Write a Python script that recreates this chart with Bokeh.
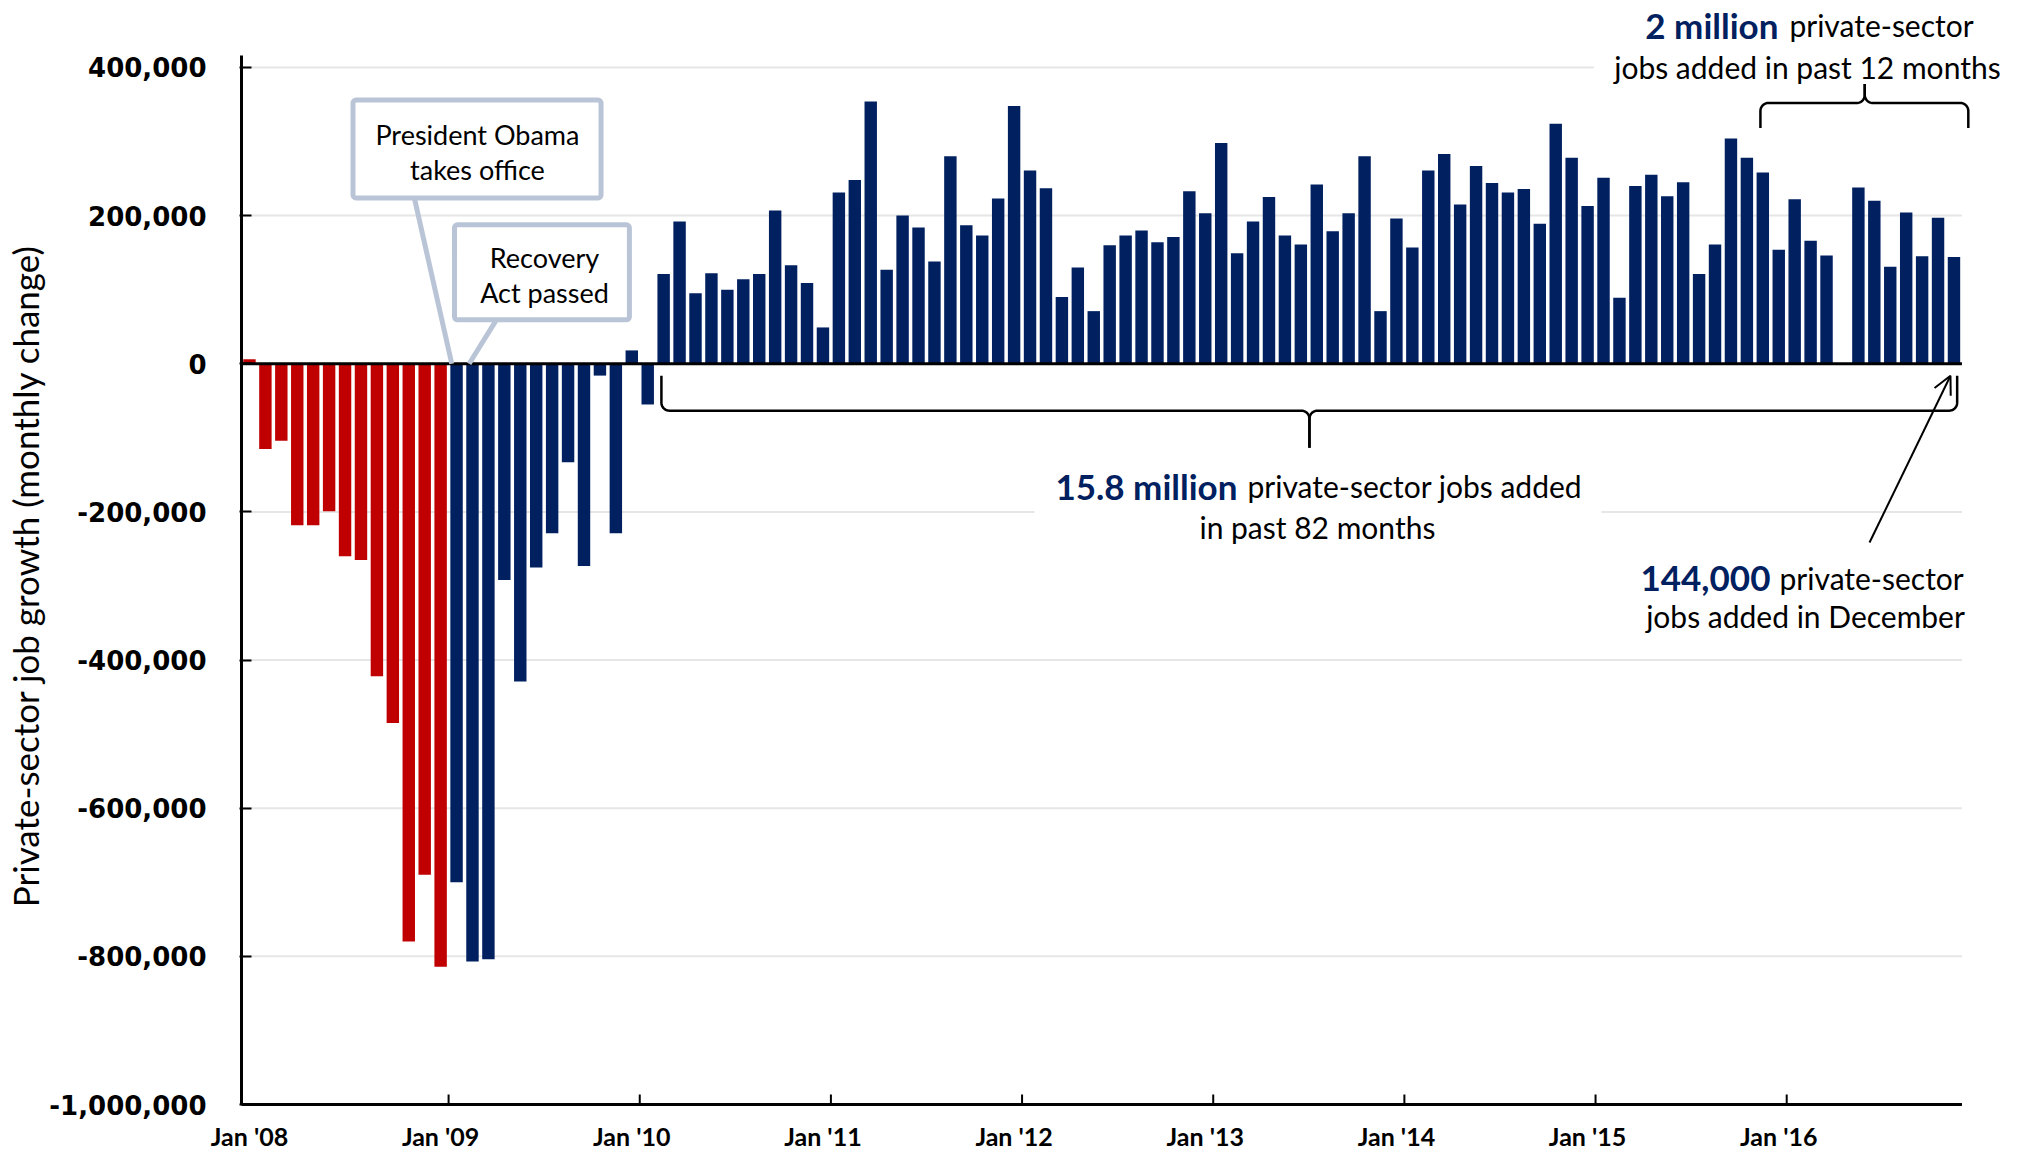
import math
from bokeh.plotting import figure
from bokeh.models import (Range1d, FixedTicker, ColumnDataSource, Label,
                          BoxAnnotation, Arrow, OpenHead)
from bokeh.embed import file_html
from bokeh.resources import INLINE

# ---------------- data: monthly change in private-sector jobs (thousands) ----------------
years = [2008, 2009, 2010, 2011, 2012, 2013, 2014, 2015, 2016]
month_names = ["Jan", "Feb", "Mar", "Apr", "May", "Jun", "Jul", "Aug", "Sep", "Oct", "Nov", "Dec"]
jobs_2008 = [6, -115, -104, -218, -218, -199, -260, -265, -422, -485, -780, -690]
jobs_2009 = [-814, -700, -807, -804, -292, -429, -275, -229, -133, -273, -16, -229]
jobs_2010 = [18, -55, 121, 192, 95, 122, 100, 114, 121, 207, 133, 109]
jobs_2011 = [49, 231, 248, 354, 127, 200, 184, 138, 280, 187, 173, 223]
jobs_2012 = [348, 261, 237, 90, 130, 71, 160, 173, 180, 164, 171, 233]
jobs_2013 = [203, 298, 149, 192, 225, 173, 161, 242, 179, 203, 280, 71]
jobs_2014 = [196, 157, 261, 283, 215, 267, 244, 231, 236, 189, 324, 278]
jobs_2015 = [213, 251, 89, 240, 255, 226, 245, 121, 161, 304, 278, 258]
jobs_2016 = [154, 222, 166, 146, 0, 238, 220, 131, 204, 145, 197, 144]
months_before_obama = 13          # Jan 2008 .. Jan 2009 shown in red

y_ticks = [-1000000, -800000, -600000, -400000, -200000, 0, 200000, 400000]
x_tick_labels = ["Jan '08", "Jan '09", "Jan '10", "Jan '11", "Jan '12",
                 "Jan '13", "Jan '14", "Jan '15", "Jan '16"]

RED = "#c00000"
NAVY = "#002060"
GRID = "#e6e6e6"

all_jobs = (jobs_2008 + jobs_2009 + jobs_2010 + jobs_2011 + jobs_2012 +
            jobs_2013 + jobs_2014 + jobs_2015 + jobs_2016)
labels = [f"{m} {y}" for y in years for m in month_names]
idx = list(range(len(all_jobs)))
colors = [RED if i < months_before_obama else NAVY for i in idx]
src = ColumnDataSource(dict(x=idx, v=[j * 1000 for j in all_jobs], c=colors, m=labels))

X0, X1 = -0.5, 107.5            # extent of the drawn axes
Y0, Y1 = -1000000, 416000
PX_X = 1 / 15.93                # one pixel in x data units
PX_Y = 1348.6                   # one pixel in y data units

# ---------------- figure (frame extended so annotations outside the axes are not clipped) ----
p = figure(width=2020, height=1153,
           x_range=Range1d(X0 - 2 * PX_X, X0 - 2 * PX_X + 1781 * PX_X),
           y_range=Range1d(Y0 - 2 * PX_Y, 490356),
           output_backend="svg", toolbar_location=None,
           min_border_left=239, min_border_right=0, min_border_top=0, min_border_bottom=46)
p.outline_line_color = None
p.background_fill_color = "white"
p.border_fill_color = "white"
p.xgrid.grid_line_color = None
p.ygrid.grid_line_color = None

# y axis
p.yaxis.ticker = FixedTicker(ticks=y_ticks)
p.yaxis.major_label_overrides = {t: f"{t:,}" for t in y_ticks}
p.yaxis.major_label_text_font = "DejaVu Sans"
p.yaxis.major_label_text_font_style = "bold"
p.yaxis.major_label_text_font_size = "26px"
p.yaxis.major_label_text_color = "black"
p.yaxis.major_label_standoff = 33
p.yaxis.axis_line_color = None
p.yaxis.major_tick_in = 12
p.yaxis.major_tick_out = 0
p.yaxis.major_tick_line_width = 2
p.yaxis.minor_tick_line_color = None
p.yaxis.axis_label = "Private-sector job growth (monthly change)" + "\u00a0" * 5
p.yaxis.axis_label_text_font = "Lato"
p.yaxis.axis_label_text_font_size = "35px"
p.yaxis.axis_label_text_font_style = "normal"
p.yaxis.axis_label_text_color = "black"
p.yaxis.axis_label_standoff = 0

# x axis: labels at January bars, tick marks drawn separately at year boundaries
x_label_pos = [12 * k for k in range(len(x_tick_labels))]
p.xaxis.ticker = FixedTicker(ticks=x_label_pos)
p.xaxis.major_label_overrides = {t: lab for t, lab in zip(x_label_pos, x_tick_labels)}
p.xaxis.major_label_text_font = "Lato"
p.xaxis.major_label_text_font_style = "bold"
p.xaxis.major_label_text_font_size = "25px"
p.xaxis.major_label_text_color = "black"
p.xaxis.major_label_standoff = 8
p.xaxis.axis_line_color = None
p.xaxis.major_tick_line_color = None
p.xaxis.minor_tick_line_color = None

# gridlines (gaps where the text blocks sit on a white background)
gx0 = [X0, X0, X0, X0, 84.87, X0, X0]
gx1 = [X1, X1, X1, 49.28, X1, 84.4, X1]
gy = [y_ticks[1], y_ticks[2], y_ticks[3], y_ticks[4], y_ticks[4], y_ticks[7], y_ticks[6]]
p.segment(x0=gx0, x1=gx1, y0=gy, y1=gy, line_color=GRID, line_width=2)

# axis lines and x tick marks
tick_x = [x + 0.5 for x in x_label_pos[1:]]
p.segment(x0=tick_x, x1=tick_x, y0=[Y0] * len(tick_x), y1=[Y0 + 10 * PX_Y] * len(tick_x),
          line_color="black", line_width=2)
p.segment(x0=[X0, X0], x1=[X1, X0], y0=[Y0, Y0], y1=[Y0, Y1],
          line_color="black", line_width=3)

# ---------------- bars ----------------
p.vbar(x="x", top="v", bottom=0, width=0.78, fill_color="c", line_color=None, source=src)

# zero line
p.segment(x0=[X0], x1=[X1], y0=[0], y1=[0], line_color="black", line_width=3)

# ---------------- callout boxes ----------------
BOX_LINE = "#b9c5d7"
p.segment(x0=[10.35, 15.5], y0=[223900, 59300], x1=[12.7, 13.79], y1=[0, 0],
          line_color=BOX_LINE, line_width=5)
p.add_layout(BoxAnnotation(left=6.5, right=22.07, top=356000, bottom=223900,
                           fill_color="white", fill_alpha=1, line_color=BOX_LINE,
                           line_alpha=1, line_width=5, border_radius=3))
p.add_layout(BoxAnnotation(left=12.87, right=23.85, top=187500, bottom=59300,
                           fill_color="white", fill_alpha=1, line_color=BOX_LINE,
                           line_alpha=1, line_width=5, border_radius=3))

TEXT_DY = 15000   # baseline correction for the rendered text

def lab(x, y, text, size, align="center", bold=False, color="black"):
    p.add_layout(Label(x=x, y=y + TEXT_DY, text=text, text_font="Lato", text_font_size=size,
                       text_font_style="bold" if bold else "normal", text_color=color,
                       text_align=align, text_baseline="alphabetic"))

lab(14.31, 294000, "President Obama", "27px")
lab(14.31, 246800, "takes office", "27px")
lab(18.52, 128100, "Recovery", "27px")
lab(18.52, 80900, "Act passed", "27px")

# ---------------- braces ----------------
def brace_half(xe, xc, y_end, y_line, y_tip, rx=0.5, ry=10800, n=10):
    s = 1 if xc > xe else -1
    d = 1 if y_tip > y_line else -1
    xs, ys = [xe], [y_end]
    for k in range(n + 1):
        t = k / n * math.pi / 2
        xs.append(xe + s * (rx - rx * math.cos(t)))
        ys.append(y_line - d * ry + d * ry * math.sin(t))
    for k in range(n + 1):
        t = k / n * math.pi / 2
        xs.append(xc - s * rx + s * rx * math.sin(t))
        ys.append(y_line + d * ry - d * ry * math.cos(t))
    xs.append(xc)
    ys.append(y_tip)
    return xs, ys

bx, by = [], []
for xe in (25.86, 107.2):
    a, b = brace_half(xe, 66.54, -16200, -63400, -113300)
    bx.append(a); by.append(b)
for xe in (94.85, 107.9):
    a, b = brace_half(xe, 101.4, 318300, 352000, 377600)
    bx.append(a); by.append(b)
p.multi_line(bx, by, line_color="black", line_width=2.5)

# ---------------- text annotations ----------------
BOLD_SIZE = "35px"
REG_SIZE = "30px"
lab(62.02, -180700, "15.8 million", BOLD_SIZE, align="right", bold=True, color=NAVY)
lab(62.65, -180700, "private-sector jobs added", REG_SIZE, align="left")
lab(67.04, -236000, "in past 82 months", REG_SIZE)

lab(95.98, 442000, "2 million", BOLD_SIZE, align="right", bold=True, color=NAVY)
lab(96.67, 442000, "private-sector", REG_SIZE, align="left")
lab(97.8, 385700, "jobs added in past 12 months", REG_SIZE)

lab(95.48, -304800, "144,000", BOLD_SIZE, align="right", bold=True, color=NAVY)
lab(96.05, -304800, "private-sector", REG_SIZE, align="left")
lab(97.68, -356000, "jobs added in December", REG_SIZE)

p.add_layout(Arrow(end=OpenHead(size=18, line_width=2, line_color="black"),
                   x_start=101.7, y_start=-241400, x_end=106.78, y_end=-16200,
                   line_width=2, line_color="black"))

open("out.html", "w").write(file_html(p, INLINE))
